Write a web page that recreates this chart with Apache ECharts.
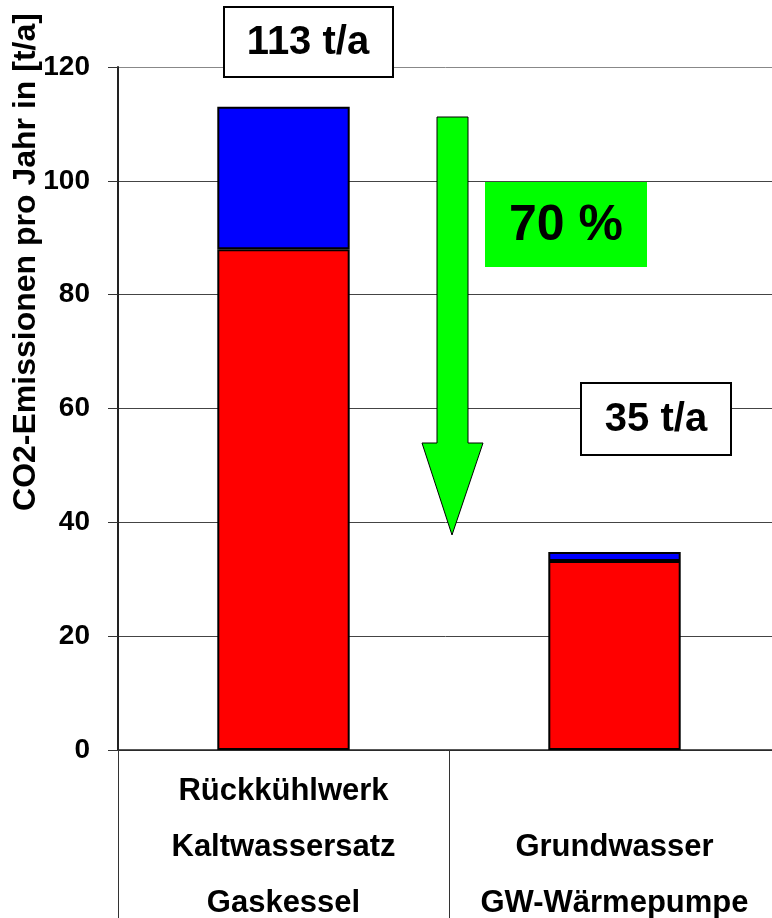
<!DOCTYPE html>
<html>
    <head>
        <meta charset="UTF-8">
        <title>CO2-Emissionen</title>
        <script src="https://cdn.jsdelivr.net/npm/echarts@6/dist/echarts.min.js"></script>
        <style>
            body,html{margin:0;padding:0;width:772px;height:918px;background:#fff;}
            #chart{width:772px;height:918px;}
        </style>
    </head>
    <body>
        <div id="chart"></div>
        <script type="text/javascript">
          // Daten
          var categories = ['Rückkühlwerk\nKaltwassersatz\nGaskessel', '\nGrundwasser\nGW-Wärmepumpe'];
          var redValues = [88, 33.2];
          var blueValues = [25, 1.6];
          var yTicks = [0, 20, 40, 60, 80, 100, 120];

          var font = '"Liberation Sans", Arial, sans-serif';

          var chart = echarts.init(document.getElementById('chart'));
          var option = {
              animation: false,
              grid: {left: 118, top: 67, width: 662, height: 683, containLabel: false, outerBoundsMode: 'none'},
              xAxis: {
                  type: 'category',
                  data: categories,
                  axisLine: {lineStyle: {color: '#222', width: 1.5}},
                  axisTick: {show: true, length: 170, alignWithLabel: false, lineStyle: {color: '#333', width: 1}},
                  axisLabel: {
                      interval: 0, margin: 13, color: '#000', fontFamily: font,
                      fontWeight: 'bold', fontSize: 31, lineHeight: 56
                  }
              },
              yAxis: {
                  type: 'value',
                  min: yTicks[0],
                  max: yTicks[yTicks.length - 1],
                  interval: 20,
                  axisLine: {show: true, lineStyle: {color: '#222', width: 2}},
                  axisTick: {show: true, length: 10, lineStyle: {color: '#333', width: 1}},
                  axisLabel: {margin: 28, color: '#000', fontFamily: font, fontWeight: 'bold', fontSize: 28},
                  splitLine: {show: true, lineStyle: {color: ['#444', '#444', '#444', '#444', '#444', '#444', '#888'], width: 1}}
              },
              series: [
                  {
                      name: 'rot', type: 'bar', stack: 'co2', barWidth: '40%',
                      itemStyle: {color: '#ff0000', borderColor: '#000', borderWidth: 2},
                      data: redValues
                  },
                  {
                      name: 'blau', type: 'bar', stack: 'co2', barWidth: '40%',
                      itemStyle: {color: '#0000ff', borderColor: '#000', borderWidth: 2},
                      data: blueValues
                  }
              ],
              graphic: [
                  // Achsentitel
                  {
                      type: 'text', x: 26, y: 262, rotation: Math.PI / 2,
                      style: {text: 'CO2-Emissionen pro Jahr in [t/a]', fill: '#000', font: 'bold 32px ' + font,
                              align: 'center', verticalAlign: 'middle'}
                  },
                  // 113 t/a
                  {
                      type: 'rect', z: 100, shape: {x: 224, y: 7, width: 169, height: 70},
                      style: {fill: '#fff', stroke: '#000', lineWidth: 2}
                  },
                  {
                      type: 'text', z: 101, x: 308, y: 43,
                      style: {text: '113 t/a', fill: '#000', font: 'bold 40px ' + font, align: 'center', verticalAlign: 'middle'}
                  },
                  // Pfeil
                  {
                      type: 'polygon', z: 100,
                      shape: {points: [[437, 117], [468, 117], [468, 443], [483, 443], [452, 535], [422, 443], [437, 443]]},
                      style: {fill: '#00ff00', stroke: '#000', lineWidth: 1}
                  },
                  // 70 %
                  {
                      type: 'rect', z: 100, shape: {x: 485, y: 182, width: 162, height: 85},
                      style: {fill: '#00ff00'}
                  },
                  {
                      type: 'text', z: 101, x: 566, y: 226,
                      style: {text: '70 %', fill: '#000', font: 'bold 50px ' + font, align: 'center', verticalAlign: 'middle'}
                  },
                  // 35 t/a
                  {
                      type: 'rect', z: 100, shape: {x: 581, y: 383, width: 150, height: 72},
                      style: {fill: '#fff', stroke: '#000', lineWidth: 2}
                  },
                  {
                      type: 'text', z: 101, x: 656, y: 420,
                      style: {text: '35 t/a', fill: '#000', font: 'bold 40px ' + font, align: 'center', verticalAlign: 'middle'}
                  }
              ]
          };
          chart.setOption(option);
        </script>
    </body>
</html>
